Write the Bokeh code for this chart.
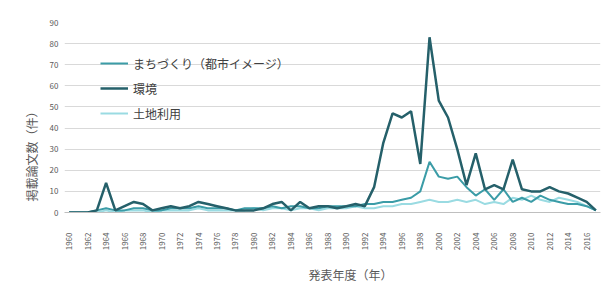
from math import pi
from bokeh.plotting import figure
from bokeh.models import Range1d, FixedTicker, Legend, LegendItem, Title
from bokeh.embed import file_html
from bokeh.resources import INLINE

FONT = "Noto Sans CJK JP"

years = list(range(1960, 2018))
year_ticks = years[::2]
y_ticks = list(range(0, 100, 10))

series_names = ["まちづくり（都市イメージ）", "環境", "土地利用"]

machi = [0, 0, 0, 1, 2, 1, 1, 2, 2, 1,
         1, 2, 2, 2, 3, 2, 2, 2, 1, 2,
         2, 2, 3, 2, 3, 3, 2, 2, 3, 3,
         3, 3, 4, 4, 5, 5, 6, 7, 10, 24,
         17, 16, 17, 12, 8, 11, 6, 11, 5, 7,
         5, 8, 6, 5, 4, 4, 3, 1]

kankyo = [0, 0, 0, 1, 14, 1, 3, 5, 4, 1,
          2, 3, 2, 3, 5, 4, 3, 2, 1, 1,
          1, 2, 4, 5, 1, 5, 2, 3, 3, 2,
          3, 4, 3, 12, 33, 47, 45, 48, 23, 83,
          53, 45, 30, 13, 28, 11, 13, 11, 25, 11,
          10, 10, 12, 10, 9, 7, 5, 1]

tochi = [0, 0, 0, 0, 1, 0, 1, 1, 1, 0,
         1, 1, 1, 1, 2, 1, 1, 1, 1, 1,
         2, 1, 2, 2, 1, 2, 2, 1, 2, 2,
         2, 3, 2, 2, 3, 3, 4, 4, 5, 6,
         5, 5, 6, 5, 6, 4, 5, 4, 7, 6,
         8, 6, 5, 7, 6, 5, 3, 1]

p = figure(width=604, height=292, output_backend="svg", toolbar_location=None,
           x_range=Range1d(1959.5, 2017.5), y_range=Range1d(0, 90),
           min_border_left=64, min_border_right=4, min_border_top=22,
           min_border_bottom=79)
p.outline_line_color = None
p.background_fill_color = "white"

r3 = p.line(years, tochi, line_color="#9adbe2", line_width=2)
r1 = p.line(years, machi, line_color="#3b9ca7", line_width=2)
r2 = p.line(years, kankyo, line_color="#25606a", line_width=2.5)

# axes
p.xaxis.ticker = FixedTicker(ticks=year_ticks)
p.xaxis.major_label_orientation = pi / 2
p.xaxis.major_tick_line_color = None
p.xaxis.minor_tick_line_color = None
p.xaxis.axis_line_color = "#bfbfbf"
p.xaxis.major_label_text_font = FONT
p.xaxis.major_label_text_font_size = "8px"
p.xaxis.major_label_text_color = "#595959"
p.xaxis.major_label_standoff = 14

p.yaxis.ticker = FixedTicker(ticks=y_ticks)
p.yaxis.axis_line_color = None
p.yaxis.major_tick_line_color = None
p.yaxis.minor_tick_line_color = None
p.yaxis.major_label_text_font = FONT
p.yaxis.major_label_text_font_size = "8px"
p.yaxis.major_label_text_color = "#595959"
p.yaxis.major_label_standoff = 0

p.xgrid.grid_line_color = None
p.ygrid.grid_line_color = "#d9d9d9"

# axis titles
xt = Title(text="発表年度（年）", align="left", offset=244, standoff=20,
           text_font=FONT, text_font_size="12px", text_color="#595959",
           text_font_style="normal", text_line_height=1.0)
p.add_layout(xt, "below")
yt = Title(text="掲載論文数（件）", align="left", offset=11, standoff=14,
           text_font=FONT, text_font_size="12px", text_color="#595959",
           text_font_style="normal")
p.add_layout(yt, "left")

legend = Legend(items=[LegendItem(label=series_names[0], renderers=[r1]),
                       LegendItem(label=series_names[1], renderers=[r2]),
                       LegendItem(label=series_names[2], renderers=[r3])],
                location=(36, 89), orientation="vertical",
                border_line_color=None, background_fill_alpha=0,
                label_text_font=FONT, label_text_font_size="12px",
                label_text_color="#404040", glyph_width=28, glyph_height=20,
                label_height=20, spacing=5, padding=0, margin=0,
                label_standoff=5)
p.add_layout(legend)

open("out.html", "w").write(file_html(p, INLINE))
